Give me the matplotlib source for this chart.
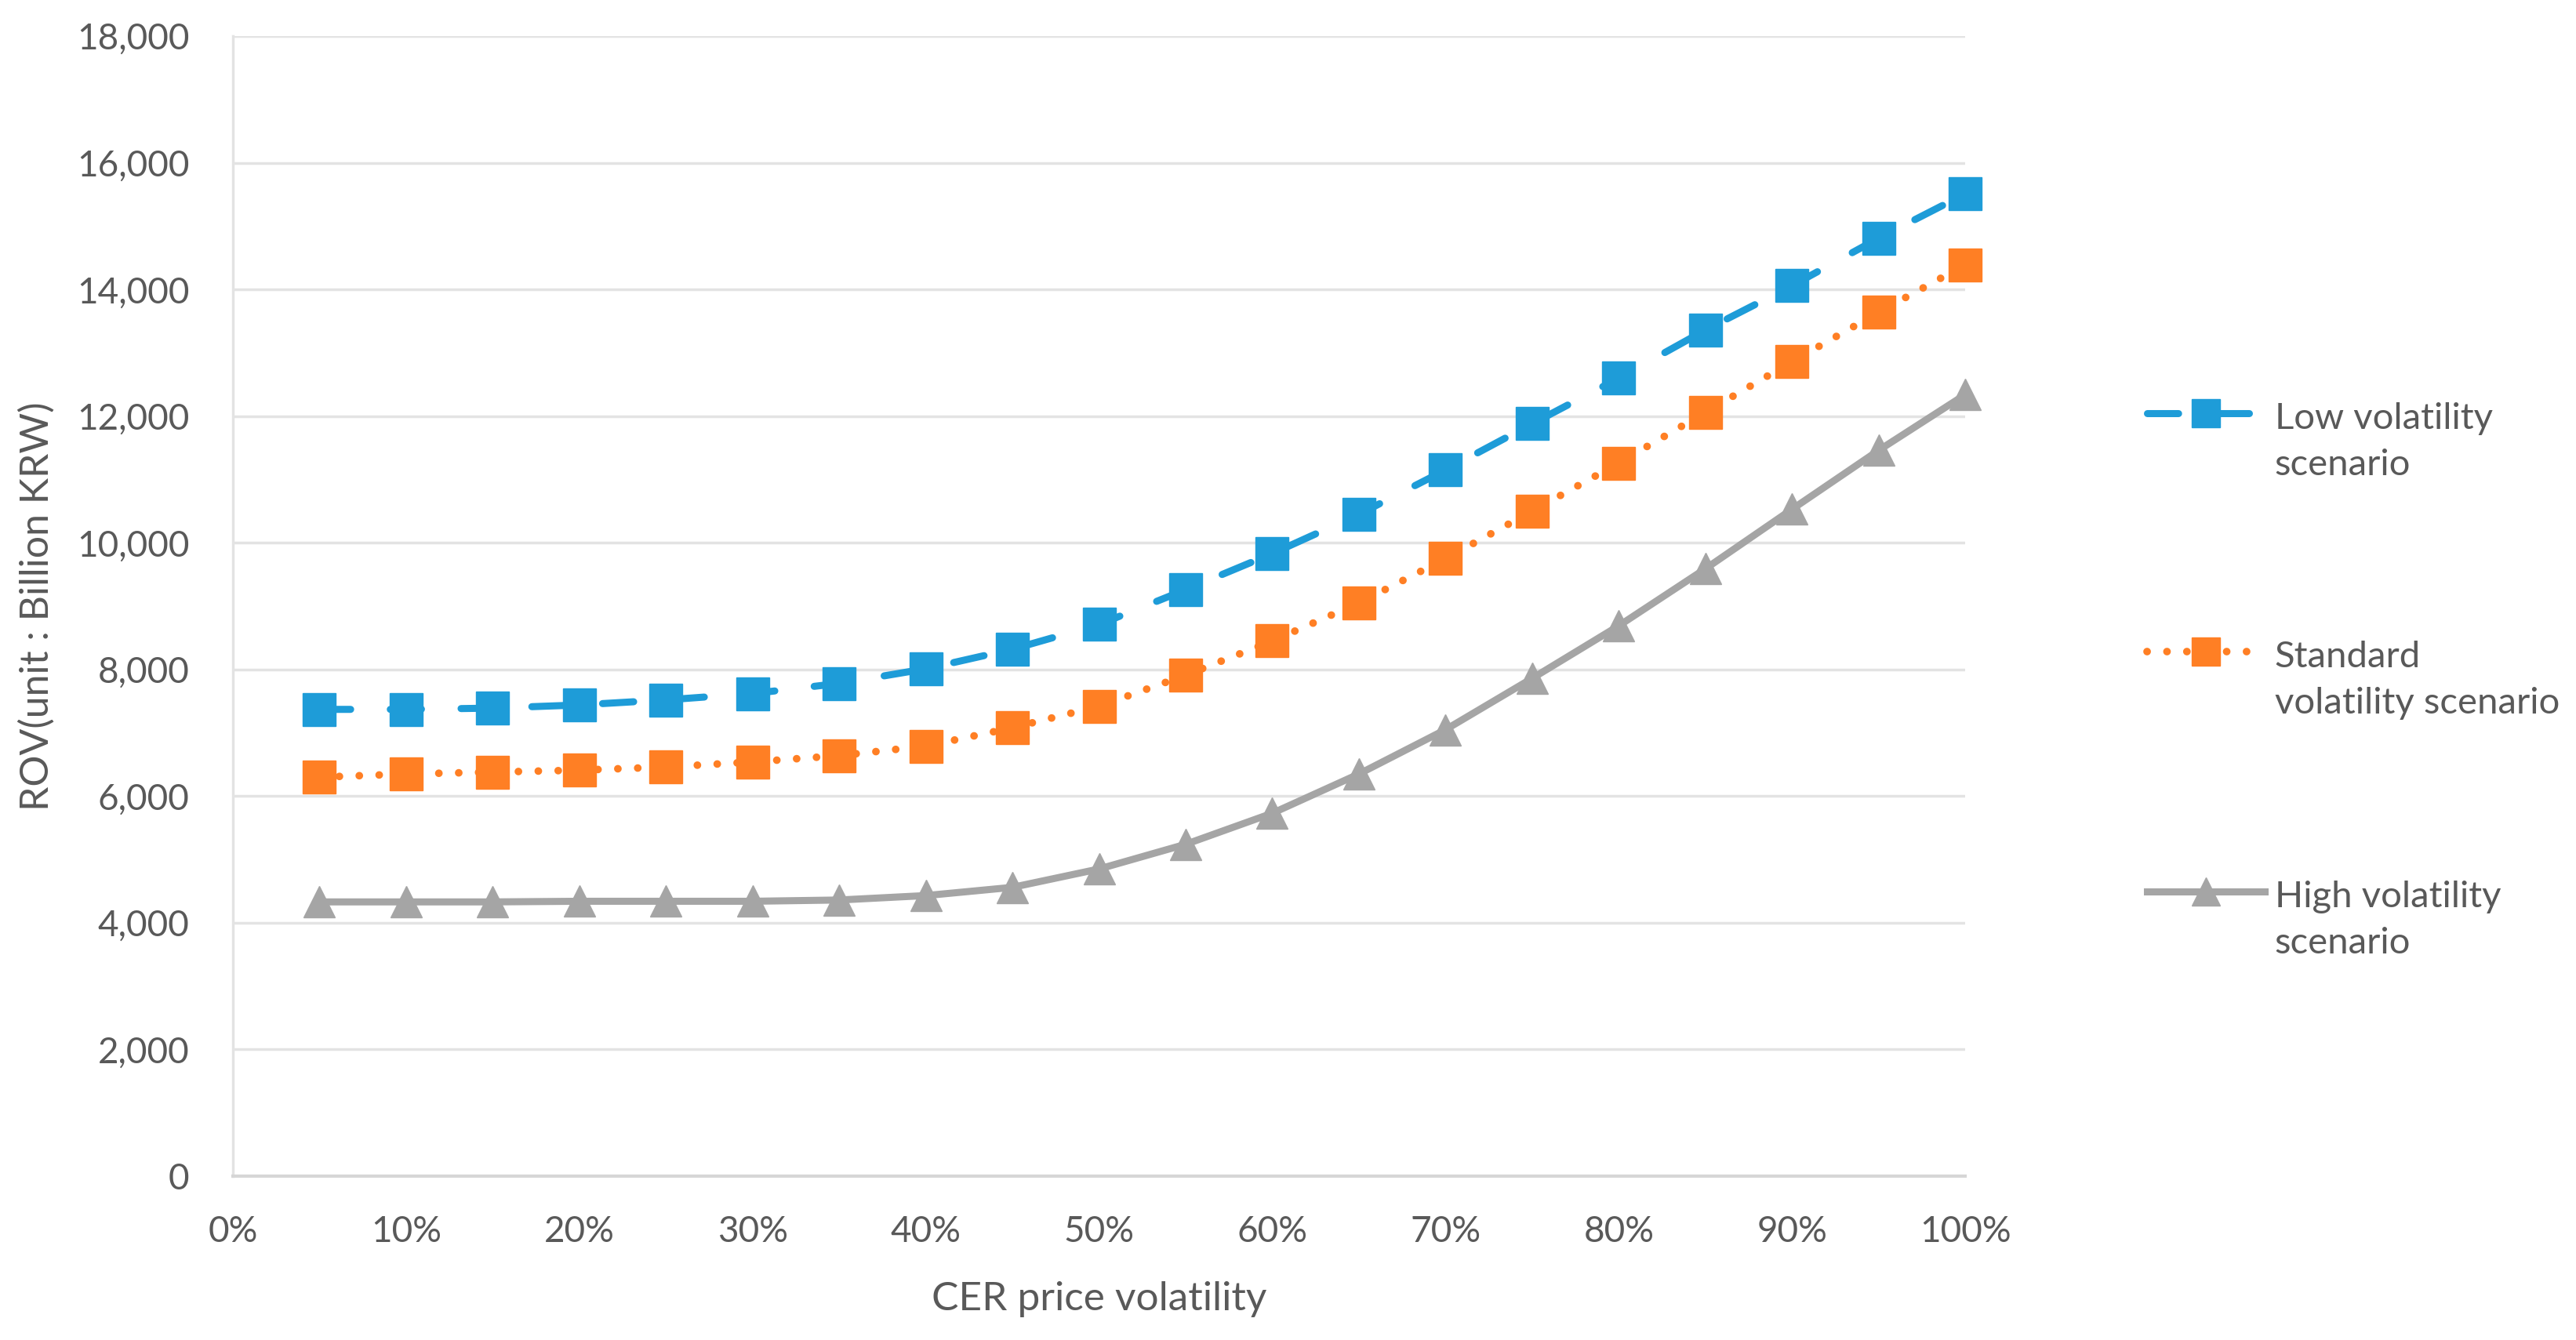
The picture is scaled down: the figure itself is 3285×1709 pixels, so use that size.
import numpy as np
import matplotlib.pyplot as plt
from matplotlib.lines import Line2D
from matplotlib.ticker import FuncFormatter

plt.rcParams['font.family'] = ['Lato', 'DejaVu Sans']

# CER price volatility (%)
vol = [5, 10, 15, 20, 25, 30, 35, 40, 45, 50, 55, 60, 65, 70, 75, 80, 85, 90, 95, 100]

# ROV (Billion KRW)
low = [7370, 7370, 7390, 7440, 7520, 7620, 7780, 8010, 8320, 8710,
       9260, 9830, 10450, 11150, 11880, 12600, 13360, 14060, 14810, 15510]
standard = [6300, 6350, 6380, 6410, 6460, 6540, 6640, 6790, 7080, 7420,
            7910, 8450, 9050, 9750, 10500, 11260, 12060, 12860, 13640, 14390]
high = [4330, 4330, 4330, 4340, 4340, 4340, 4360, 4430, 4560, 4850,
        5240, 5730, 6350, 7050, 7860, 8690, 9590, 10530, 11460, 12340]

labels = ['Low volatility\nscenario', 'Standard\nvolatility scenario', 'High volatility\nscenario']
blue = '#1E9CD8'
orange = '#FF7F24'
gray = '#A5A5A5'
txt = '#595959'
dash = (0, (4.4, 5.6))
dots = (0, (0.01, 2.6))

fig = plt.figure(figsize=(32.85, 17.09), dpi=100)
ax = fig.add_axes([0.0904, 0.1223, 0.6725, 0.8507])

ax.plot(vol, low, color=blue, lw=6.5, ls=dash, dash_capstyle='round',
        marker='s', ms=30, mec=blue, mfc=blue, clip_on=False, zorder=3)
ax.plot(vol, standard, color=orange, lw=7, ls=dots, dash_capstyle='round',
        marker='s', ms=30, mec=orange, mfc=orange, clip_on=False, zorder=3)
ax.plot(vol, high, color=gray, lw=6.5, ls='-',
        marker='^', ms=29, mec=gray, mfc=gray, clip_on=False, zorder=3)

ax.set_xlim(0, 100)
ax.set_ylim(0, 18000)
ax.set_xticks(np.arange(0, 101, 10))
ax.set_yticks(np.arange(0, 18001, 2000))
ax.xaxis.set_major_formatter(FuncFormatter(lambda v, p: f'{int(v)}%'))
ax.yaxis.set_major_formatter(FuncFormatter(lambda v, p: f'{int(v):,}'))
ax.tick_params(length=0, labelsize=33, colors=txt)
ax.tick_params(axis='x', pad=36)
ax.tick_params(axis='y', pad=40)

ax.grid(axis='y', color='#E3E3E3', lw=2.5)
ax.set_axisbelow(True)
for s in ['top', 'right']:
    ax.spines[s].set_visible(False)
ax.spines['left'].set_color('#E3E3E3')
ax.spines['left'].set_linewidth(2.5)
ax.spines['bottom'].set_color('#D6D6D6')
ax.spines['bottom'].set_linewidth(3)

ax.set_xlabel('CER price volatility', fontsize=37, color=txt, labelpad=30)
ax.set_ylabel('ROV(unit : Billion KRW)', fontsize=36, color=txt, labelpad=20)

# legend drawn at the right side
styles = [(blue, dash, 's', 6.5), (orange, dots, 's', 7), (gray, '-', '^', 6.5)]
ys = [0.6915, 0.5135, 0.3345]
for (c, ls, m, w), lab, y in zip(styles, labels, ys):
    fig.add_artist(Line2D([0.8335, 0.8562, 0.879], [y, y, y], transform=fig.transFigure,
                          color=c, lw=w, ls=ls, dash_capstyle='round',
                          marker=m, ms=26, mec=c, mfc=c, markevery=[1]))
    fig.text(0.883, y + 0.0085, lab, fontsize=34, color=txt, va='top',
             linespacing=1.5, transform=fig.transFigure)

fig.savefig('out.png', dpi=100)
